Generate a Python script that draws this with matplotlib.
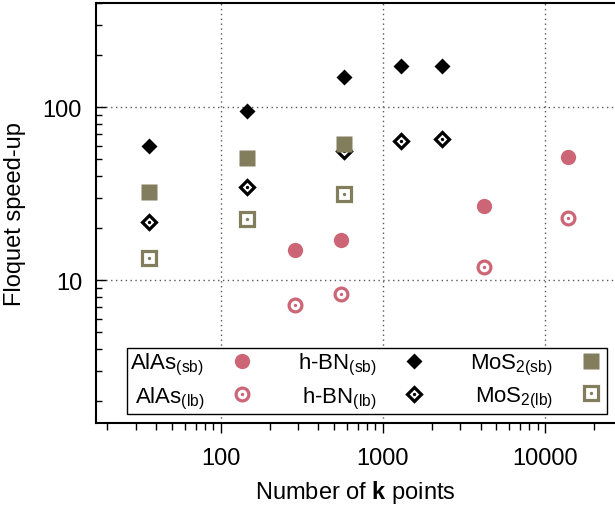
import matplotlib
matplotlib.use("Agg")
from matplotlib import pyplot as plt
from matplotlib.legend_handler import HandlerTuple
from matplotlib.ticker import FuncFormatter, NullFormatter, LogLocator

plt.rcParams['font.family'] = ['Liberation Sans', 'DejaVu Sans']
plt.rcParams['mathtext.fontset'] = 'custom'
plt.rcParams['mathtext.rm'] = 'Liberation Sans'
plt.rcParams['mathtext.it'] = 'Liberation Sans:italic'
plt.rcParams['mathtext.bf'] = 'Liberation Sans:bold'
plt.rcParams['font.size'] = 17

# data
alas_k = [288, 550, 4200, 13900]
alas_sb = [15.0, 17.1, 26.8, 51.5]
alas_lb = [7.2, 8.3, 12.0, 23.0]

hbn_k = [36, 145, 574, 1290, 2310]
hbn_sb = [60, 95, 149, 174, 174]
hbn_lb = [21.8, 34.5, 56, 64, 65.5]

mos2_k = [36, 145, 574]
mos2_sb = [32.3, 51, 61.5]
mos2_lb = [13.4, 22.7, 31.6]

labels = [r'AlAs$_{\mathrm{(sb)}}$', r'AlAs$_{\mathrm{(lb)}}$',
          r'h-BN$_{\mathrm{(sb)}}$', r'h-BN$_{\mathrm{(lb)}}$',
          r'MoS$_{\mathrm{2(sb)}}$', r'MoS$_{\mathrm{2(lb)}}$']

ROSE = '#CC6677'
OLIVE = '#827D5C'
BLACK = 'black'

fig = plt.figure(figsize=(6.15, 5.1), dpi=100)
ax = fig.add_axes([96 / 615, 86 / 510, 519 / 615, 420 / 510])


def filled(x, y, marker, color, ms):
    h, = ax.plot(x, y, ls='none', marker=marker, ms=ms, mfc=color,
                 mec='none', zorder=3)
    return h


def hollow(x, y, marker, color, ms):
    ring, = ax.plot(x, y, ls='none', marker=marker, ms=ms, mfc='white',
                    mec=color, mew=2.3, zorder=3)
    dot, = ax.plot(x, y, ls='none', marker='o', ms=2.4, mfc=color,
                   mec='none', zorder=3)
    return (ring, dot)


handles = [
    filled(alas_k, alas_sb, 'o', ROSE, 11),
    hollow(alas_k, alas_lb, 'o', ROSE, 9.2),
    filled(hbn_k, hbn_sb, 'D', BLACK, 8.6),
    hollow(hbn_k, hbn_lb, 'D', BLACK, 7.0),
    filled(mos2_k, mos2_sb, 's', OLIVE, 11.5),
    hollow(mos2_k, mos2_lb, 's', OLIVE, 9.6),
]

ax.set_xscale('log')
ax.set_yscale('log')
ax.set_xlim(17, 27000)
ax.set_ylim(1.5, 400)

fmt = FuncFormatter(lambda v, p: '%d' % round(v))
ax.xaxis.set_major_formatter(fmt)
ax.yaxis.set_major_formatter(fmt)
ax.xaxis.set_minor_formatter(NullFormatter())
ax.yaxis.set_minor_formatter(NullFormatter())
ax.xaxis.set_minor_locator(LogLocator(subs=range(2, 10)))
ax.yaxis.set_minor_locator(LogLocator(subs=range(2, 10)))

ax.tick_params(axis='x', which='major', direction='out', length=7, width=1, pad=10)
ax.tick_params(axis='x', which='minor', direction='out', length=5, width=1)
ax.tick_params(axis='y', which='major', direction='in', length=7, width=1, pad=10)
ax.tick_params(axis='y', which='minor', direction='in', length=4, width=1)

ax.grid(True, which='major', color='0.35', linestyle=(0, (1, 2.5)), lw=1)
ax.spines['right'].set_visible(False)
for s in ['left', 'top', 'bottom']:
    ax.spines[s].set_linewidth(1.5)

ax.set_xlabel(r'Number of $\mathbf{k}$ points', labelpad=7)
ax.set_ylabel('Floquet speed-up', labelpad=12)

leg = ax.legend(handles, labels, ncol=3, markerfirst=False, mode='expand',
                loc='lower left', bbox_to_anchor=(0.06, 0.021, 0.925, 0.167),
                handler_map={tuple: HandlerTuple(ndivide=1, pad=0)},
                fancybox=False, framealpha=1, edgecolor='black', fontsize=16,
                labelspacing=0.35, handletextpad=1.1, handlelength=1.2,
                borderpad=0.15, borderaxespad=0, columnspacing=1.2)
leg.get_frame().set_linewidth(1)

fig.savefig('out.png', dpi=100)
